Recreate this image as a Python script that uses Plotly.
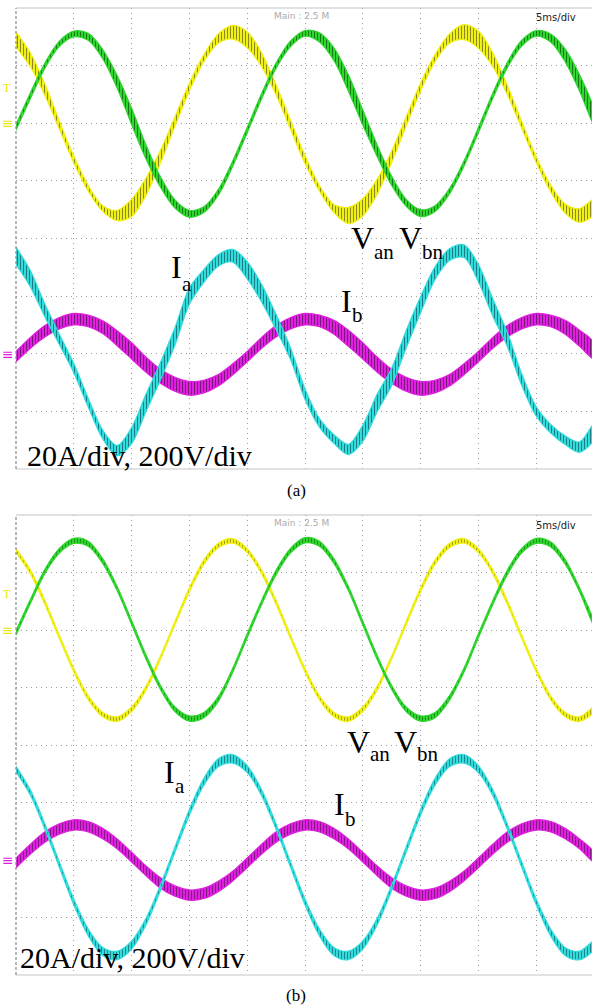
import plotly.graph_objects as go

# ---------------- data (divisions; 5 ms/div, 1 div vertical) ----------------
t_ms = [0.0, 1.25, 2.5, 3.75, 5.0, 6.25, 7.5, 8.75, 10.0, 11.25, 12.5, 13.75, 15.0, 16.25,
        17.5, 18.75, 20.0, 21.25, 22.5, 23.75, 25.0, 26.25, 27.5, 28.75, 30.0, 31.25, 32.5,
        33.75, 35.0, 36.25, 37.5, 38.75, 40.0, 41.25, 42.5, 43.75, 45.0, 46.25, 47.5, 48.75, 50.0]

# ---- panel (a) ----
van_a = [3.45, 3.10, 2.58, 1.97, 1.37, 0.87, 0.52, 0.40, 0.53, 0.90, 1.42, 2.03, 2.63, 3.13,
         3.47, 3.58, 3.45, 3.10, 2.58, 1.97, 1.37, 0.87, 0.52, 0.40, 0.54, 0.90, 1.42, 2.03,
         2.63, 3.13, 3.47, 3.58, 3.45, 3.10, 2.58, 1.97, 1.37, 0.87, 0.52, 0.40, 0.55]
vbn_a = [1.93, 2.48, 3.00, 3.38, 3.55, 3.50, 3.20, 2.72, 2.12, 1.50, 0.98, 0.60, 0.43, 0.50,
         0.80, 1.30, 1.88, 2.47, 3.00, 3.38, 3.56, 3.49, 3.20, 2.70, 2.10, 1.52, 1.00, 0.62,
         0.44, 0.52, 0.82, 1.30, 1.88, 2.48, 3.01, 3.39, 3.56, 3.48, 3.18, 2.70, 2.10]
ia_a = [-0.30, -0.70, -1.25, -1.75, -2.25, -2.85, -3.40, -3.68, -3.42, -2.85, -2.30, -1.70,
        -1.00, -0.65, -0.38, -0.30, -0.55, -0.95, -1.45, -2.00, -2.70, -3.20, -3.48, -3.66,
        -3.38, -2.85, -2.40, -1.75, -1.15, -0.60, -0.28, -0.22, -0.60, -1.20, -1.75, -2.45,
        -3.00, -3.30, -3.50, -3.62, -3.35]
ib_a = [-2.05, -1.81, -1.61, -1.47, -1.40, -1.43, -1.54, -1.73, -1.95, -2.19, -2.39, -2.53,
        -2.60, -2.57, -2.46, -2.27, -2.05, -1.81, -1.61, -1.47, -1.40, -1.43, -1.54, -1.73,
        -1.95, -2.19, -2.39, -2.53, -2.60, -2.57, -2.46, -2.27, -2.05, -1.81, -1.61, -1.47,
        -1.40, -1.43, -1.54, -1.73, -1.95]
# switching-ripple half-width
rip_van_a = [0.13, 0.12, 0.10, 0.07, 0.06, 0.05, 0.05, 0.09, 0.15, 0.15, 0.11, 0.08, 0.07, 0.06,
             0.08, 0.12, 0.14, 0.12, 0.09, 0.08, 0.07, 0.05, 0.07, 0.14, 0.15, 0.13, 0.10, 0.08,
             0.07, 0.06, 0.08, 0.13, 0.15, 0.12, 0.08, 0.06, 0.05, 0.06, 0.08, 0.12, 0.13]
rip_vbn_a = [0.05, 0.05, 0.045, 0.045, 0.05, 0.06, 0.08, 0.11, 0.14, 0.12, 0.09, 0.07, 0.06, 0.05,
             0.05, 0.045, 0.045, 0.045, 0.045, 0.05, 0.05, 0.08, 0.11, 0.14, 0.13, 0.10, 0.08, 0.06,
             0.06, 0.05, 0.045, 0.045, 0.045, 0.045, 0.045, 0.05, 0.05, 0.07, 0.11, 0.14, 0.13]
rip_ia_a = [0.15, 0.14, 0.11, 0.09, 0.08, 0.075, 0.075, 0.09, 0.14, 0.15, 0.15, 0.15, 0.14, 0.11,
            0.10, 0.11, 0.15, 0.15, 0.13, 0.10, 0.09, 0.075, 0.075, 0.09, 0.14, 0.15, 0.15, 0.15,
            0.14, 0.11, 0.10, 0.11, 0.15, 0.15, 0.12, 0.10, 0.08, 0.075, 0.075, 0.09, 0.13]
rip_ib_a = [0.09, 0.095, 0.10, 0.10, 0.10, 0.10, 0.11, 0.13, 0.14, 0.13, 0.12, 0.12, 0.12, 0.11,
            0.10, 0.095, 0.09, 0.095, 0.10, 0.10, 0.10, 0.10, 0.12, 0.14, 0.14, 0.13, 0.12, 0.12,
            0.12, 0.11, 0.10, 0.095, 0.09, 0.095, 0.10, 0.10, 0.10, 0.10, 0.12, 0.14, 0.14]

# ---- panel (b) ----
van_b = [3.38, 3.01, 2.48, 1.88, 1.30, 0.82, 0.53, 0.45, 0.62, 0.99, 1.52, 2.12, 2.70, 3.18,
         3.47, 3.55, 3.38, 3.01, 2.48, 1.88, 1.30, 0.82, 0.53, 0.45, 0.62, 0.99, 1.52, 2.12,
         2.70, 3.18, 3.47, 3.55, 3.38, 3.01, 2.48, 1.88, 1.30, 0.82, 0.53, 0.45, 0.62]
vbn_b = [1.95, 2.50, 3.02, 3.38, 3.55, 3.50, 3.20, 2.72, 2.13, 1.53, 1.00, 0.62, 0.46, 0.52,
         0.80, 1.30, 1.90, 2.48, 3.00, 3.38, 3.56, 3.50, 3.20, 2.72, 2.12, 1.52, 1.00, 0.62,
         0.46, 0.52, 0.82, 1.30, 1.90, 2.48, 3.00, 3.38, 3.55, 3.49, 3.19, 2.70, 2.10]
ia_b = [-0.42, -0.83, -1.42, -2.08, -2.73, -3.26, -3.59, -3.66, -3.48, -3.07, -2.48, -1.82,
        -1.17, -0.64, -0.31, -0.24, -0.42, -0.83, -1.42, -2.08, -2.73, -3.26, -3.59, -3.66,
        -3.48, -3.07, -2.48, -1.82, -1.17, -0.64, -0.31, -0.24, -0.42, -0.83, -1.42, -2.08,
        -2.73, -3.26, -3.59, -3.66, -3.48]
ib_b = [-2.05, -1.81, -1.60, -1.46, -1.39, -1.42, -1.54, -1.72, -1.95, -2.19, -2.40, -2.54,
        -2.61, -2.58, -2.46, -2.28, -2.05, -1.81, -1.60, -1.46, -1.39, -1.42, -1.54, -1.72,
        -1.95, -2.19, -2.40, -2.54, -2.61, -2.58, -2.46, -2.28, -2.05, -1.81, -1.60, -1.46,
        -1.39, -1.42, -1.54, -1.72, -1.95]
rip_van_b = [0.035, 0.035, 0.035, 0.030, 0.030, 0.035, 0.040, 0.040, 0.040, 0.035, 0.030, 0.030,
             0.035, 0.040, 0.040, 0.040, 0.035, 0.035, 0.035, 0.030, 0.030, 0.035, 0.040, 0.040,
             0.040, 0.035, 0.030, 0.030, 0.035, 0.040, 0.040, 0.040, 0.035, 0.035, 0.035, 0.030,
             0.030, 0.035, 0.040, 0.040, 0.040]
rip_vbn_b = [0.040, 0.035, 0.035, 0.040, 0.045, 0.045, 0.040, 0.035, 0.035, 0.035, 0.035, 0.040,
             0.045, 0.045, 0.040, 0.035, 0.035, 0.035, 0.040, 0.040, 0.045, 0.045, 0.040, 0.035,
             0.035, 0.035, 0.035, 0.040, 0.045, 0.045, 0.040, 0.035, 0.035, 0.035, 0.040, 0.040,
             0.045, 0.045, 0.040, 0.035, 0.035]
rip_ia_b = [0.050, 0.045, 0.045, 0.045, 0.050, 0.060, 0.070, 0.075, 0.070, 0.055, 0.045, 0.045,
            0.050, 0.060, 0.070, 0.075, 0.060, 0.050, 0.045, 0.045, 0.050, 0.060, 0.070, 0.075,
            0.070, 0.055, 0.045, 0.045, 0.050, 0.060, 0.070, 0.075, 0.060, 0.050, 0.045, 0.045,
            0.050, 0.060, 0.070, 0.075, 0.070]
rip_ib_b = [0.085, 0.085, 0.090, 0.090, 0.090, 0.090, 0.090, 0.085, 0.085, 0.085, 0.090, 0.090,
            0.090, 0.090, 0.090, 0.085, 0.085, 0.085, 0.090, 0.090, 0.090, 0.090, 0.090, 0.085,
            0.085, 0.085, 0.090, 0.090, 0.090, 0.090, 0.090, 0.085, 0.085, 0.085, 0.090, 0.090,
            0.090, 0.090, 0.090, 0.085, 0.085]

volt_offset = 2.0
curr_offset = -2.0

# ---------------- styling ----------------
COL = {
    "yellow": ("#F0F014", "#8A8A20"),
    "green": ("#2ED62E", "#187818"),
    "cyan": ("#30DCDC", "#1C7C84"),
    "magenta": ("#E020E0", "#781878"),
}

fig = go.Figure()


def band(x, y, r, colour, xa, ya, solidity, size=3):
    bright, dark = COL[colour]
    up = [v + d for v, d in zip(y, r)]
    lo = [v - d for v, d in zip(y, r)]
    fig.add_trace(go.Scatter(
        x=list(x) + list(x)[::-1], y=up + lo[::-1],
        xaxis=xa, yaxis=ya, mode="lines", fill="toself",
        line=dict(color=bright, width=1.2, shape="spline", smoothing=0.9),
        fillcolor=bright,
        fillpattern=dict(shape="|", size=size, solidity=solidity,
                         fgcolor=dark, bgcolor=bright, fillmode="replace"),
        hoverinfo="skip", showlegend=False))


# panel (a)
band(t_ms, van_a, rip_van_a, "yellow", "x", "y", 0.35)
band(t_ms, ib_a, rip_ib_a, "magenta", "x", "y", 0.35)
band(t_ms, vbn_a, rip_vbn_a, "green", "x", "y", 0.35)
band(t_ms, ia_a, rip_ia_a, "cyan", "x", "y", 0.35)
# panel (b)
band(t_ms, van_b, rip_van_b, "yellow", "x2", "y2", 0.25)
band(t_ms, ib_b, rip_ib_b, "magenta", "x2", "y2", 0.3)
band(t_ms, vbn_b, rip_vbn_b, "green", "x2", "y2", 0.25)
band(t_ms, ia_b, rip_ia_b, "cyan", "x2", "y2", 0.3)

W, H = 592, 1007
x_left_px = 16
px_per_ms = 57.8 / 5
x_end = (W - x_left_px) / px_per_ms

grid = dict(showgrid=True, gridcolor="#9c9c9c", gridwidth=1, griddash="1px,4px",
            zeroline=False, showticklabels=False, ticks="")
xa = dict(range=[0, x_end], domain=[x_left_px / W, 1], tick0=0, dtick=5, **grid)
ya_ = dict(range=[-4, 4], tick0=0, dtick=1, **grid)

fig.update_layout(
    width=W, height=H, margin=dict(l=0, r=0, t=0, b=0),
    paper_bgcolor="white", plot_bgcolor="white", showlegend=False,
    xaxis=dict(**xa, anchor="y"),
    yaxis=dict(**ya_, domain=[1 - 469 / H, 1 - 8 / H], anchor="x"),
    xaxis2=dict(**xa, anchor="y2"),
    yaxis2=dict(**ya_, domain=[1 - 975 / H, 1 - 515 / H], anchor="x2"),
)

# frame lines
for xr, yr in (("x", "y"), ("x2", "y2")):
    dx, dy = xr + " domain", yr + " domain"
    fig.add_shape(type="line", xref=dx, yref=dy, x0=0, x1=1, y0=1, y1=1,
                  line=dict(color="#c4c4c4", width=1.2), layer="above")
    fig.add_shape(type="line", xref=dx, yref=dy, x0=0, x1=1, y0=0, y1=0,
                  line=dict(color="#c8c8c8", width=1.2), layer="above")
    fig.add_shape(type="line", xref=dx, yref=dy, x0=0, x1=0, y0=0, y1=1,
                  line=dict(color="#8c8c8c", width=1.2, dash="3px,2px"), layer="above")

serif = "Liberation Serif, Times New Roman, serif"
sans = "DejaVu Sans, Verdana, sans-serif"


def label(text, x, y, xr, yr, size=32, font=serif, color="black", xanchor="left"):
    fig.add_annotation(text=text, x=x, y=y, xref=xr, yref=yr, showarrow=False,
                       xanchor=xanchor, yanchor="middle",
                       font=dict(family=font, size=size, color=color))


def sym(main, sub, xm, ym, xs, ys, xr, yr):
    label(main, xm, ym, xr, yr, size=32)
    label(sub, xs, ys, xr, yr, size=21)


# panel (a) labels: main letter and its subscript
sym("V", "an", 28.8, 0.0, 30.8, -0.23, "x", "y")
sym("V", "bn", 32.95, 0.0, 34.95, -0.23, "x", "y")
sym("I", "a", 13.2, -0.5, 14.15, -0.79, "x", "y")
sym("I", "b", 27.9, -1.08, 28.85, -1.33, "x", "y")
label("20A/div, 200V/div", 0.75, -3.77, "x", "y", size=30)
# panel (b) labels
sym("V", "an", 28.5, 0.06, 30.45, -0.15, "x2", "y2")
sym("V", "bn", 32.5, 0.06, 34.5, -0.15, "x2", "y2")
sym("I", "a", 12.6, -0.47, 13.6, -0.72, "x2", "y2")
sym("I", "b", 27.3, -1.03, 28.3, -1.29, "x2", "y2")
label("20A/div, 200V/div", 0.15, -3.69, "x2", "y2", size=30)

# scope header texts
for yr, ytop in (("y", 16), ("y2", 523)):
    fig.add_annotation(text="Main : 2.5 M", x=301 / W, y=1 - ytop / H, xref="paper", yref="paper",
                       showarrow=False, xanchor="center", yanchor="middle",
                       font=dict(family=sans, size=9, color="#ababab"))
    fig.add_annotation(text="5ms/div", x=556 / W, y=1 - (ytop + 2) / H, xref="paper", yref="paper",
                       showarrow=False, xanchor="center", yanchor="middle",
                       font=dict(family=sans, size=10, color="#222222"))

# channel markers at left edge
for yr in ("y", "y2"):
    fig.add_annotation(text="≡", x=0.0, y=volt_offset, xref="paper", yref=yr, showarrow=False,
                       xanchor="left", yanchor="middle", font=dict(family=sans, size=14, color="#E8E800"))
    fig.add_annotation(text="T", x=0.002, y=volt_offset + 0.62, xref="paper", yref=yr, showarrow=False,
                       xanchor="left", yanchor="middle", font=dict(family=serif, size=12, color="#E8E800"))
    fig.add_annotation(text="≡", x=0.0, y=curr_offset, xref="paper", yref=yr, showarrow=False,
                       xanchor="left", yanchor="middle", font=dict(family=sans, size=14, color="#E020E0"))

# captions
fig.add_annotation(text="(a)", x=296 / W, y=1 - 490 / H, xref="paper", yref="paper", showarrow=False,
                   xanchor="center", yanchor="middle", font=dict(family=serif, size=17, color="black"))
fig.add_annotation(text="(b)", x=296 / W, y=1 - 995 / H, xref="paper", yref="paper", showarrow=False,
                   xanchor="center", yanchor="middle", font=dict(family=serif, size=17, color="black"))

fig.write_html("out.html")
